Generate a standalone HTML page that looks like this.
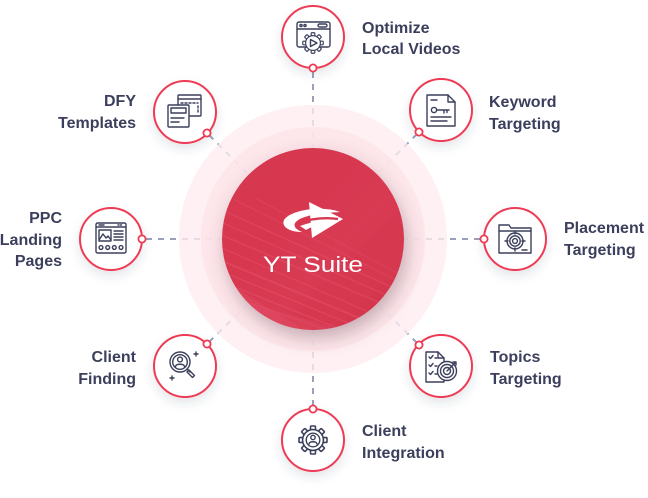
<!DOCTYPE html>
<html>
<head>
<meta charset="utf-8">
<style>
html,body{margin:0;padding:0;background:#fff;}
svg{display:block;}
.t{font-family:"Liberation Sans",Arial,sans-serif;font-weight:bold;font-size:16px;fill:#3b3f5c;}
.ic{fill:none;stroke:#3b3f5c;stroke-width:1.4;stroke-linecap:round;stroke-linejoin:round;}
.icw{fill:#fff;stroke:#3b3f5c;stroke-width:1.4;stroke-linecap:round;stroke-linejoin:round;}
</style>
</head>
<body>
<svg width="648" height="498" viewBox="0 0 648 498" xmlns="http://www.w3.org/2000/svg">
<defs>
  <filter id="ns" x="-50%" y="-50%" width="200%" height="200%">
    <feDropShadow dx="0" dy="5" stdDeviation="5" flood-color="#3b3f5c" flood-opacity="0.13"/>
  </filter>
  <filter id="ms" x="-50%" y="-50%" width="200%" height="200%">
    <feDropShadow dx="3" dy="8" stdDeviation="9" flood-color="#5a3a4a" flood-opacity="0.35"/>
  </filter>
  <clipPath id="mc"><circle cx="313" cy="239" r="91"/></clipPath>
  <linearGradient id="mg" x1="0" y1="0" x2="1" y2="1">
    <stop offset="0" stop-color="#d6364e"/>
    <stop offset="0.6" stop-color="#d83a52"/>
    <stop offset="1" stop-color="#d2344c"/>
  </linearGradient>
  <g id="tooth"><rect x="-2.2" y="-12.5" width="4.4" height="4.5" rx="0.8" class="icw"/></g>
</defs>

<!-- dashed connectors -->
<g stroke="#9aa0bc" stroke-width="2" stroke-dasharray="6 6" fill="none">
  <line x1="313" y1="72" x2="313" y2="148"/>
  <line x1="313" y1="406" x2="313" y2="330"/>
  <line x1="146" y1="239" x2="222" y2="239"/>
  <line x1="480" y1="239" x2="404" y2="239"/>
  <line x1="209" y1="135" x2="249" y2="175"/>
  <line x1="417" y1="134" x2="377" y2="174"/>
  <line x1="209" y1="342" x2="249" y2="303"/>
  <line x1="417" y1="343" x2="377" y2="303"/>
</g>

<!-- halos -->
<circle cx="313" cy="239" r="134" fill="#feecef" fill-opacity="0.78"/>
<circle cx="313" cy="239" r="112" fill="#fde4e8" fill-opacity="0.75"/>

<!-- main circle -->
<circle cx="313" cy="239" r="91" fill="url(#mg)" filter="url(#ms)"/>
<g clip-path="url(#mc)" stroke="#f06079" fill="none">
  <path d="M200 200 L420 300" stroke-width="1.2" opacity="0.35"/>
  <path d="M205 215 L420 310" stroke-width="1" opacity="0.35"/>
  <path d="M210 230 L420 320" stroke-width="1.5" opacity="0.3"/>
  <path d="M215 245 L410 330" stroke-width="1" opacity="0.35"/>
  <path d="M215 258 L400 335" stroke-width="2" opacity="0.3"/>
  <path d="M218 270 L390 340" stroke-width="1" opacity="0.4"/>
  <path d="M222 282 L380 345" stroke-width="1.5" opacity="0.3"/>
  <path d="M235 200 L420 292" stroke-width="1" opacity="0.3"/>
  <path d="M255 198 L420 285" stroke-width="1" opacity="0.25"/>
  <path d="M230 296 L370 345" stroke-width="1" opacity="0.3"/>
  <path d="M215 275 L320 340 L215 340 Z" fill="#e5526a" stroke="none" opacity="0.35"/>
  <path d="M240 300 L360 335 L300 345 Z" fill="#e24f67" stroke="none" opacity="0.3"/>
</g>
<!-- logo -->
<g fill="#fff">
  <path d="M309 202 L343 219 L312 238 Z"/>
  <path d="M340 212 C322 205,290 210,284 220 C281 227,290 232,302 232 C295 229,292 225,297 221 C304 215,322 213,340 212 Z"/>
  <path d="M300 226 C314 221,328 219,338 221 C326 222,314 225,306 230 Z"/>
</g>
<path d="M296 223 C310 219,325 217,338 219" stroke="#d8384f" stroke-width="2.4" fill="none"/>
<text x="313" y="272" text-anchor="middle" font-family="Liberation Sans, Arial, sans-serif" font-size="22" fill="#fff" textLength="100" lengthAdjust="spacingAndGlyphs">YT Suite</text>

<!-- nodes -->
<g fill="#fff" stroke="#ee3b55" stroke-width="2" filter="url(#ns)">
  <circle cx="313" cy="37" r="31"/>
  <circle cx="185" cy="112" r="31"/>
  <circle cx="441" cy="110" r="31"/>
  <circle cx="111" cy="239" r="31"/>
  <circle cx="515" cy="239" r="31"/>
  <circle cx="185" cy="366" r="31"/>
  <circle cx="441" cy="366" r="31"/>
  <circle cx="313" cy="440" r="31"/>
</g>
<!-- dots -->
<g fill="#fff" stroke="#ee3b55" stroke-width="1.8">
  <circle cx="313" cy="68" r="3.6"/>
  <circle cx="207" cy="133" r="3.6"/>
  <circle cx="419" cy="132" r="3.6"/>
  <circle cx="142" cy="239" r="3.6"/>
  <circle cx="484" cy="239" r="3.6"/>
  <circle cx="207" cy="344" r="3.6"/>
  <circle cx="419" cy="345" r="3.6"/>
  <circle cx="313" cy="409" r="3.6"/>
</g>

<!-- icon 1: optimize local videos -->
<g>
  <rect x="297" y="22" width="33" height="25" rx="2" class="ic"/>
  <line x1="297" y1="29" x2="330" y2="29" class="ic"/>
  <circle cx="301" cy="25.5" r="1.1" class="ic"/>
  <circle cx="305" cy="25.5" r="1.1" class="ic"/>
  <rect x="318" y="24" width="9" height="3" rx="1.5" class="ic"/>
  <g transform="translate(313,43) scale(0.82)">
    <use href="#tooth"/><use href="#tooth" transform="rotate(45)"/><use href="#tooth" transform="rotate(90)"/><use href="#tooth" transform="rotate(135)"/>
    <use href="#tooth" transform="rotate(180)"/><use href="#tooth" transform="rotate(225)"/><use href="#tooth" transform="rotate(270)"/><use href="#tooth" transform="rotate(315)"/>
    <circle r="9" class="icw"/>
  </g>
  <path d="M310.5 39.5 L317 43 L310.5 46.5 Z" class="ic"/>
</g>

<!-- icon 2: DFY templates -->
<g>
  <rect x="178" y="95" width="23" height="21" rx="1" class="ic"/>
  <line x1="178" y1="99" x2="201" y2="99" class="ic"/>
  <line x1="181" y1="103" x2="198" y2="103" class="ic" stroke-dasharray="2 2"/>
  <line x1="198" y1="106" x2="198" y2="113" class="ic" stroke-dasharray="2 2"/>
  <rect x="168" y="105" width="21" height="22" rx="1" class="icw"/>
  <rect x="171" y="108" width="15" height="5" class="ic"/>
  <line x1="171" y1="118" x2="184" y2="118" class="ic"/>
  <line x1="171" y1="122" x2="179" y2="122" class="ic"/>
</g>

<!-- icon 3: keyword targeting -->
<g>
  <path d="M427 95 H448 L455 102 V126 H427 Z" class="ic"/>
  <path d="M448 95 V102 H455" class="ic"/>
  <line x1="431" y1="100" x2="437" y2="100" class="ic"/>
  <circle cx="434" cy="110" r="2.6" class="ic"/>
  <path d="M436.6 110 H449 M444 110 V113 M447 110 V112.5" class="ic"/>
  <line x1="431" y1="117" x2="451" y2="117" class="ic"/>
  <line x1="431" y1="121" x2="447" y2="121" class="ic"/>
</g>

<!-- icon 4: PPC landing pages -->
<g>
  <rect x="96" y="223" width="30" height="30" rx="1.5" class="ic"/>
  <line x1="96" y1="227" x2="126" y2="227" class="ic"/>
  <line x1="99" y1="225" x2="104" y2="225" class="ic" stroke-width="1"/>
  <line x1="118" y1="225" x2="123" y2="225" class="ic" stroke-width="1" stroke-dasharray="1 1.5"/>
  <rect x="99" y="230" width="12" height="11" class="ic"/>
  <path d="M99 240 L103 234 L106 238 L108 236 L111 240" class="ic"/>
  <line x1="114" y1="231" x2="123" y2="231" class="ic"/>
  <line x1="114" y1="234" x2="123" y2="234" class="ic"/>
  <line x1="114" y1="237" x2="123" y2="237" class="ic"/>
  <line x1="114" y1="240" x2="123" y2="240" class="ic"/>
  <circle cx="101" cy="247.5" r="1.9" class="ic"/>
  <circle cx="107.7" cy="247.5" r="1.9" class="ic"/>
  <circle cx="114.3" cy="247.5" r="1.9" class="ic"/>
  <circle cx="121" cy="247.5" r="1.9" class="ic"/>
</g>

<!-- icon 5: placement targeting -->
<g>
  <path d="M499 225 H509 L511 228 H531 V253 H499 Z" class="ic"/>
  <line x1="499" y1="231" x2="531" y2="231" class="ic"/>
  <circle cx="515" cy="241" r="8" class="ic"/>
  <circle cx="515" cy="241" r="5.2" class="ic"/>
  <circle cx="515" cy="241" r="2.4" class="ic"/>
  <path d="M515 231 V234 M515 248 V251 M505 241 H508 M522 241 H525" class="ic"/>
  <line x1="522" y1="250" x2="527" y2="250" class="ic"/>
</g>

<!-- icon 6: client finding -->
<g>
  <circle cx="180" cy="362" r="10" class="ic"/>
  <circle cx="180" cy="362" r="7.3" class="ic"/>
  <circle cx="180" cy="359.5" r="2.4" class="ic"/>
  <path d="M175.5 366.5 C176 363.5,184 363.5,184.5 366.5" class="ic"/>
  <path d="M187 369 L190 372 M189 370 L194.5 375.5 L192.5 377.5 L187 372 Z" class="ic"/>
  <path d="M196 352 V356 M194 354 H198" class="ic" stroke-width="1.1"/>
  <path d="M172 376 V380 M170 378 H174" class="ic" stroke-width="1.1"/>
</g>

<!-- icon 7: topics targeting -->
<g>
  <path d="M426 352 H438 L444 358 V382 H426 Z" class="ic"/>
  <path d="M438 352 V358 H444" class="ic"/>
  <path d="M429 357 L430.5 358.5 L433 355.5 M435 358 H437" class="ic" stroke-width="1.1"/>
  <path d="M429 365 L430.5 366.5 L433 363.5 M435 366 H437" class="ic" stroke-width="1.1"/>
  <path d="M429 373 L430.5 374.5 L433 371.5 M435 374 H437" class="ic" stroke-width="1.1"/>
  <circle cx="447" cy="371" r="9.5" class="icw"/>
  <circle cx="447" cy="371" r="6.5" class="ic"/>
  <circle cx="447" cy="371" r="3.5" class="ic"/>
  <path d="M447 371 L455 363 M453 362 L456 362 L456 365" class="ic"/>
</g>

<!-- icon 8: client integration -->
<g>
  <g transform="translate(313,440) scale(1.12)">
    <use href="#tooth"/><use href="#tooth" transform="rotate(45)"/><use href="#tooth" transform="rotate(90)"/><use href="#tooth" transform="rotate(135)"/>
    <use href="#tooth" transform="rotate(180)"/><use href="#tooth" transform="rotate(225)"/><use href="#tooth" transform="rotate(270)"/><use href="#tooth" transform="rotate(315)"/>
    <circle r="9.3" class="icw" stroke-width="1.25"/>
  </g>
  <circle cx="313" cy="440" r="6.8" class="ic"/>
  <circle cx="313" cy="437.5" r="2.2" class="ic"/>
  <path d="M309 444 C309.5 441,316.5 441,317 444" class="ic"/>
</g>

<!-- labels -->
<text class="t" x="362" y="33">Optimize</text>
<text class="t" x="362" y="54">Local Videos</text>

<text class="t" x="136" y="106" text-anchor="end">DFY</text>
<text class="t" x="136" y="128" text-anchor="end">Templates</text>

<text class="t" x="489" y="107">Keyword</text>
<text class="t" x="489" y="129">Targeting</text>

<text class="t" x="62" y="223" text-anchor="end">PPC</text>
<text class="t" x="62" y="245" text-anchor="end">Landing</text>
<text class="t" x="62" y="266" text-anchor="end">Pages</text>

<text class="t" x="564" y="233">Placement</text>
<text class="t" x="564" y="255">Targeting</text>

<text class="t" x="136" y="362" text-anchor="end">Client</text>
<text class="t" x="136" y="384" text-anchor="end">Finding</text>

<text class="t" x="490" y="362">Topics</text>
<text class="t" x="490" y="384">Targeting</text>

<text class="t" x="362" y="436">Client</text>
<text class="t" x="362" y="458">Integration</text>
</svg>
</body>
</html>
